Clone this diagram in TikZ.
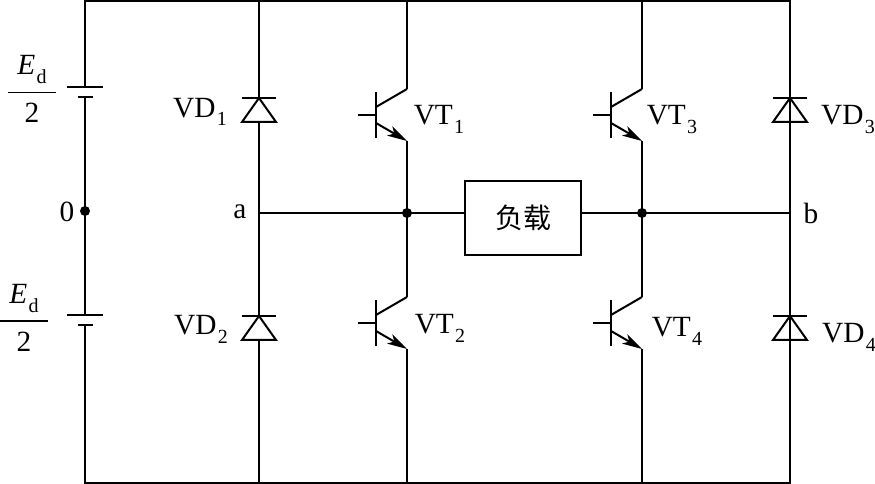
\documentclass[tikz,border=0pt]{standalone}
\usepackage{fontspec}
\setmainfont{Liberation Serif}
\newfontfamily\cjk{Noto Sans CJK SC}
\usetikzlibrary{arrows.meta,positioning}

\newcommand{\subs}[1]{\kern1pt\raisebox{-0.3em}{\fontsize{15}{15}\selectfont #1}}
\newcommand{\halfEd}{$\displaystyle{\mbox{\rule[-10pt]{0pt}{1pt}\textit{E}\subs{d}}\above 0.9pt \makebox[36pt]{\rule{0pt}{19.8pt}2}}$}

\tikzset{
  wire/.style={draw=black,line width=1.5pt},
  lbl/.style={inner sep=0pt,font=\fontsize{22}{24}\selectfont},
  junction/.style={circle,fill=black,inner sep=0pt,minimum size=7.5pt},
  pics/igbt/.style={code={
    \coordinate (-c) at (31,-26);
    \coordinate (-e) at (31,26);
    \draw[wire] (0,-23) -- (0,23);
    \draw[wire] (-18,0) -- (0,0);
    \draw[wire] (0,-8) -- (-c);
    \draw[wire,-{Stealth[length=15pt,width=8pt,inset=4pt]}] (0,8) -- (-e);
  }},
  pics/vdiode/.style={code={
    \coordinate (-k) at (0,0);
    \coordinate (-a) at (0,24);
    \draw[wire] (-17,0) -- (17,0);
    \draw[wire] (0,0) -- (-17,24) -- (17,24) -- cycle;
  }},
  pics/cell/.style={code={
    \coordinate (-p) at (0,0);
    \coordinate (-n) at (0,10);
    \draw[wire] (-18,0) -- (18,0);
    \draw[wire] (-7.5,10) -- (7.5,10);
  }}
}

\begin{document}
\begin{tikzpicture}[x=0.75pt,y=-0.75pt]
  \useasboundingbox (0,0) rectangle (875,484);

  % corners of the frame
  \coordinate (tl) at (85,1);
  \coordinate (tr) at (790,1);
  \coordinate (bl) at (85,483);
  \coordinate (br) at (790,483);
  \coordinate (ttop1) at (259,1);
  \coordinate (tbot1) at (259,483);
  \coordinate (ttop2) at (407,1);
  \coordinate (tbot2) at (407,483);
  \coordinate (ttop3) at (642,1);
  \coordinate (tbot3) at (642,483);

  \pic (e1) at (85,87) {cell};
  \pic (e2) at (85,315) {cell};
  \pic (vd1) at (259,98) {vdiode};
  \pic (vd2) at (259,316) {vdiode};
  \pic (vd3) at (790,98) {vdiode};
  \pic (vd4) at (790,316) {vdiode};
  \pic (vt1) at (376,115) {igbt};
  \pic (vt2) at (376,323) {igbt};
  \pic (vt3) at (611,115) {igbt};
  \pic (vt4) at (611,323) {igbt};

  \node[junction] (n0) at (85,211) {};
  \coordinate (na) at (259,213);
  \coordinate (nb) at (790,213);
  \node[junction] (n1) at (407,213) {};
  \node[junction] (n2) at (642,213) {};
  \node[draw=black,line width=1.5pt,minimum width=87pt,minimum height=55pt,inner sep=0pt,
        font=\cjk\fontsize{21}{23}\selectfont] (load) at (523,218) {负载};

  % frame and source
  \draw[wire] (e1-p) -- (tl) -- (tr) -- (br) -- (bl) -- (e2-n);
  \draw[wire] (e1-n) -- (e2-p);

  % legs
  \draw[wire] (ttop1) -- (vd1-k) (vd1-a) -- (vd2-k) (vd2-a) -- (tbot1);
  \draw[wire] (ttop2) -- (vt1-c) (vt1-e) -- (vt2-c) (vt2-e) -- (tbot2);
  \draw[wire] (ttop3) -- (vt3-c) (vt3-e) -- (vt4-c) (vt4-e) -- (tbot3);
  \draw[wire] (tr) -- (vd3-k) (vd3-a) -- (vd4-k) (vd4-a) -- (br);

  % middle branch
  \draw[wire] (na) -- (load.west |- na) (load.east |- na) -- (nb);

  \node[lbl] (lzero) at (67,212) {0};
  \node[lbl] (la) at (240,212) {a};
  \node[lbl] (lb) at (811,213) {b};
  \node[lbl] (lvd1) at (200,112) {VD\subs{1}};
  \node[lbl] (lvd2) at (201,329.5) {VD\subs{2}};
  \node[lbl] (lvd3) at (848,119.5) {VD\subs{3}};
  \node[lbl] (lvd4) at (849,337.5) {VD\subs{4}};
  \node[lbl] (lvt1) at (439,119.5) {VT\subs{1}};
  \node[lbl] (lvt2) at (440,328.5) {VT\subs{2}};
  \node[lbl] (lvt3) at (672,119.5) {VT\subs{3}};
  \node[lbl] (lvt4) at (677,331) {VT\subs{4}};
  \node[lbl,anchor=base] (lfrac1) at (32,99.3) {\halfEd};
  \node[lbl,anchor=base] (lfrac2) at (24,328) {\halfEd};
\end{tikzpicture}
\end{document}
